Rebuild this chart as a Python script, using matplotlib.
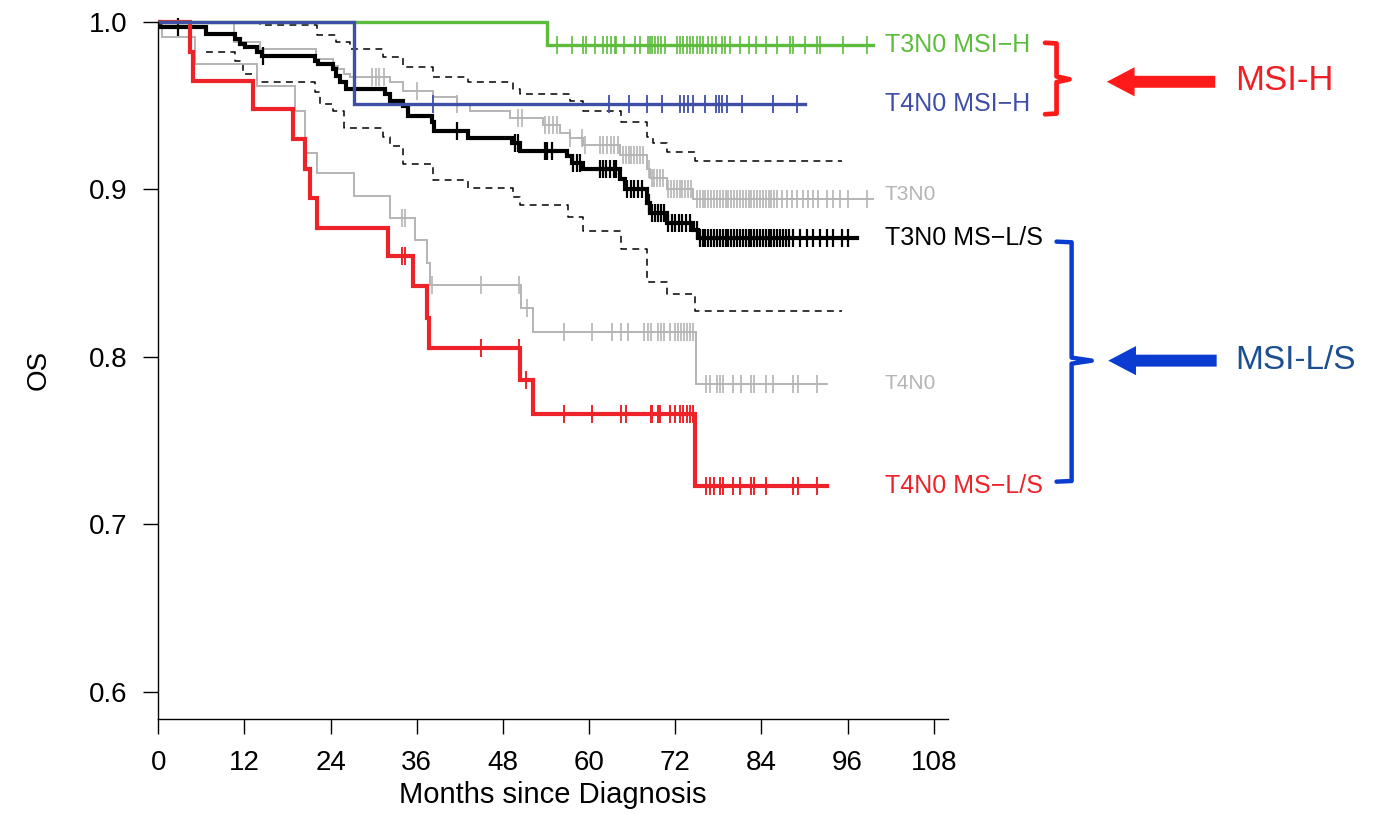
import numpy as np
import matplotlib
matplotlib.use('Agg')
import matplotlib.pyplot as plt

plt.rcParams['font.family'] = ['Liberation Sans', 'DejaVu Sans']

# ---- Kaplan-Meier step data (months, OS after each event) ----
green_t = [54.2]
green_s = [0.986]
green_end = 99.5
green_cens = [55.5, 57.6, 59.1, 59.5, 60.8, 62.0, 62.5, 63.1, 63.6, 63.8, 64.9, 66.4, 67.1,
              68.2, 68.5, 68.8, 69.2, 69.6, 70.0, 70.6, 72.2, 72.7, 73.1, 73.6, 74.0, 74.4,
              75.0, 75.4, 75.9, 76.5, 77.1, 77.7, 78.5, 78.9, 79.6, 81.0, 82.2, 83.3, 84.6,
              86.1, 88.0, 88.4, 90.1, 91.7, 92.2, 95.3, 98.7]

blue_t = [27.2]
blue_s = [0.951]
blue_end = 90.1
blue_cens = [38.2, 62.8, 65.6, 68.1, 70.2, 72.6, 73.2, 73.8, 74.5, 76.1, 77.7, 78.1, 78.5,
             79.2, 81.3, 85.6, 89.0]

black_t = [0.3, 6.7, 10.7, 11.4, 12.1, 13.7, 14.4, 21.8, 22.3, 24.3, 24.8, 25.3, 26.2, 31.6,
           32.3, 34.1, 34.8, 38.1, 38.4, 43.2, 49.2, 50.4, 56.9, 57.6, 59.2, 64.3, 65.0, 68.0,
           68.5, 70.8, 74.5, 75.2]
black_s = [0.997, 0.993, 0.990, 0.987, 0.985, 0.982, 0.980, 0.977, 0.975, 0.972, 0.968, 0.964,
           0.960, 0.957, 0.953, 0.950, 0.944, 0.940, 0.935, 0.931, 0.928, 0.923, 0.920, 0.916,
           0.912, 0.906, 0.900, 0.892, 0.886, 0.880, 0.876, 0.871]
black_end = 97.3
black_cens = [2.8, 14.6, 41.6, 49.7, 50.1, 53.8, 54.2, 54.8, 57.8, 58.3, 58.8, 61.5, 62.0,
              62.4, 62.9, 63.4, 63.8, 65.3, 65.8, 66.3, 66.8, 67.3, 68.3, 68.8, 69.2, 69.6,
              70.0, 70.4, 71.0, 71.5, 72.0, 72.5, 73.0, 73.5, 74.0, 75.0, 75.4, 75.8, 76.2,
              76.6, 77.0, 77.4, 77.8, 78.2, 78.6, 79.0, 79.4, 79.8, 80.2, 80.6, 81.0, 81.4,
              81.8, 82.2, 82.6, 83.0, 83.4, 83.8, 84.2, 84.6, 85.0, 85.4, 85.8, 86.2, 86.6,
              87.0, 87.4, 87.8, 88.4, 89.4, 90.3, 91.2, 92.1, 93.1, 94.0, 95.2, 96.1]

black_up_t = [14.2, 22.1, 24.8, 26.7, 31.3, 34.1, 38.3, 43.2, 49.4, 50.4, 57.3, 59.2, 64.5,
              68.0, 68.9, 70.8, 74.7]
black_up_s = [0.998, 0.992, 0.988, 0.984, 0.979, 0.973, 0.967, 0.964, 0.960, 0.957, 0.953,
              0.947, 0.940, 0.9315, 0.9275, 0.9225, 0.917]
black_lo_t = [6.7, 10.7, 11.8, 13.7, 21.8, 22.5, 24.4, 25.8, 31.3, 32.3, 34.1, 38.3, 43.2,
              49.4, 50.4, 57.1, 59.2, 64.5, 68.0, 70.8, 74.7]
black_lo_s = [0.982, 0.977, 0.969, 0.964, 0.958, 0.951, 0.947, 0.9365, 0.9315, 0.926, 0.915,
              0.9056, 0.9006, 0.8953, 0.8907, 0.8837, 0.8753, 0.8642, 0.8449, 0.8375, 0.8275]
black_lo_start = 0.988
ci_end = 95.2

red_t = [4.4, 4.9, 13.2, 18.8, 20.4, 21.1, 22.1, 32.0, 35.5, 37.4, 37.7, 50.4, 52.2, 74.7]
red_s = [0.982, 0.965, 0.948, 0.930, 0.912, 0.895, 0.877, 0.860, 0.842, 0.823, 0.805, 0.786,
         0.766, 0.723]
red_end = 93.1
red_cens = [33.9, 34.4, 45.0, 50.2, 51.2, 56.5, 60.4, 64.4, 65.2, 68.6, 68.8, 69.6, 69.9,
            71.3, 72.0, 72.7, 73.1, 73.6, 74.1, 74.4, 76.3, 76.8, 77.4, 78.2, 78.6, 80.1,
            81.0, 82.6, 83.0, 84.6, 88.4, 89.1, 91.7]

t3_t = [10.5, 14.2, 22.0, 24.4, 25.0, 25.8, 26.7, 32.3, 34.1, 38.3, 41.6, 43.4, 49.0, 53.6,
        56.0, 57.3, 59.2, 64.3, 68.0, 68.5, 70.8, 74.5]
t3_s = [0.988, 0.984, 0.978, 0.974, 0.972, 0.969, 0.967, 0.964, 0.959, 0.955, 0.951, 0.947,
        0.9425, 0.9385, 0.9335, 0.9305, 0.9265, 0.9205, 0.912, 0.907, 0.900, 0.894]
t3_end = 99.6
t3_cens = [29.8, 30.3, 30.8, 31.4, 36.0, 41.6, 50.1, 50.6, 53.9, 54.4, 55.0, 55.5, 57.3, 59.0,
           59.4, 61.5, 62.0, 62.5, 63.0, 63.5, 64.0, 64.7, 65.1, 65.5, 65.9, 66.3, 66.7, 67.1,
           67.5, 68.3, 68.7, 69.1, 69.5, 69.9, 70.3, 71.0, 71.4, 71.8, 72.2, 72.6, 73.0, 73.4,
           73.8, 74.2, 75.0, 75.4, 75.8, 76.2, 76.6, 77.0, 77.4, 77.8, 78.2, 78.6, 79.0, 79.4,
           79.8, 80.2, 80.6, 81.0, 81.4, 81.8, 82.2, 82.6, 83.0, 83.4, 83.8, 84.2, 84.6, 85.0,
           85.4, 85.8, 86.1, 86.8, 87.5, 88.2, 88.9, 89.8, 90.5, 91.2, 91.9, 93.1, 94.0, 94.9,
           96.1, 98.7]

t4_t = [0.5, 5.1, 13.7, 19.0, 20.4, 22.1, 27.2, 32.2, 35.7, 37.4, 37.8, 50.5, 52.2, 74.9]
t4_s = [0.991, 0.975, 0.962, 0.947, 0.922, 0.910, 0.896, 0.883, 0.870, 0.856, 0.843, 0.829,
        0.815, 0.784]
t4_end = 93.1
t4_cens = [33.9, 34.4, 38.1, 45.0, 50.2, 51.4, 56.5, 60.4, 63.2, 64.4, 65.4, 67.7, 68.2, 68.6,
           69.6, 70.0, 70.4, 71.3, 72.0, 72.4, 72.8, 73.2, 73.6, 74.0, 74.4, 76.3, 76.8, 77.8,
           78.2, 78.6, 80.1, 81.1, 82.6, 83.0, 84.6, 85.6, 88.4, 89.1, 91.7]

labels = ['T3N0 MSI\u2212H', 'T4N0 MSI\u2212H', 'T3N0', 'T3N0 MS\u2212L/S', 'T4N0',
          'T4N0 MS\u2212L/S']

GREEN = '#5cbc3c'
BLUE = '#3f4ea6'
RED = '#ee2229'
GREY = '#b4b4b4'


def steps(t, s, end, start=1.0):
    x = np.r_[0.0, t, end]
    y = np.r_[start, s, s[-1]]
    return x, y


def level(t, s, x, start=1.0):
    idx = np.searchsorted(t, x, side='right')
    return np.r_[start, s][idx]


def km(ax, t, s, end, cens, color, lw, mew, start=1.0):
    x, y = steps(t, s, end, start)
    ax.step(x, y, where='post', color=color, lw=lw, solid_joinstyle='miter')
    ax.plot(cens, level(t, s, cens, start), ls='none', marker='|', ms=13,
            mew=mew, color=color)


fig = plt.figure(figsize=(13.83, 8.14), dpi=100)
ax = fig.add_axes([0.11446, 0.1167, 0.5711, 0.8624])
ax.set_xlim(0, 110)
ax.set_ylim(0.5836, 1.003)

# confidence band for T3N0 MS-L/S
dash = (0, (4.5, 3.5))
x, y = steps(black_up_t, black_up_s, ci_end)
ax.step(x, y, where='post', color='black', lw=1.1, ls=dash)
x, y = steps(black_lo_t, black_lo_s, ci_end, black_lo_start)
ax.step(x[1:], y[1:], where='post', color='black', lw=1.1, ls=dash)

km(ax, t3_t, t3_s, t3_end, t3_cens, GREY, 1.4, 1.2)
km(ax, t4_t, t4_s, t4_end, t4_cens, GREY, 1.4, 1.2)
km(ax, black_t, black_s, black_end, black_cens, 'black', 3.0, 1.6)
km(ax, red_t, red_s, red_end, red_cens, RED, 3.0, 1.4)
km(ax, green_t, green_s, green_end, green_cens, GREEN, 2.4, 1.2)
km(ax, blue_t, blue_s, blue_end, blue_cens, BLUE, 2.4, 1.3)

# right-hand curve labels
lab_y = [green_s[-1], blue_s[-1], t3_s[-1] + 0.003, black_s[-1], t4_s[-1], red_s[-1]]
lab_c = [GREEN, BLUE, GREY, 'black', GREY, RED]
lab_fs = [18, 18, 15, 18, 15, 18]
for txt, yy, cc, fs in zip(labels, lab_y, lab_c, lab_fs):
    ax.text(101.2, yy, txt, color=cc, fontsize=fs, va='center', ha='left', clip_on=False)

# brackets and arrows
bk_red = dict(x=[123.5, 125.1, 125.1, 126.9, 125.1, 125.1, 123.5],
              y=[0.9876, 0.9872, 0.9675, 0.9658, 0.9641, 0.9453, 0.9449])
bk_blue = dict(x=[125.1, 127.2, 127.2, 130.0, 127.2, 127.2, 125.1],
               y=[0.8688, 0.8684, 0.7995, 0.7977, 0.7959, 0.7258, 0.7254])
ax.plot(bk_red['x'], bk_red['y'], color='#ff1a1a', lw=3.4, clip_on=False,
        solid_capstyle='round', solid_joinstyle='round')
ax.plot(bk_blue['x'], bk_blue['y'], color='#0a3cd2', lw=3.2, clip_on=False,
        solid_capstyle='round', solid_joinstyle='round')

arrow = 'simple,head_length=1.0,head_width=1.05,tail_width=0.43'
ax.annotate('', xy=(132.1, 0.9643), xytext=(147.2, 0.9643), annotation_clip=False,
            arrowprops=dict(arrowstyle=arrow, mutation_scale=20, color='#ff1a1a',
                            shrinkA=0, shrinkB=0, lw=0))
ax.annotate('', xy=(132.3, 0.7977), xytext=(147.4, 0.7977), annotation_clip=False,
            arrowprops=dict(arrowstyle=arrow, mutation_scale=20, color='#0a3cd2',
                            shrinkA=0, shrinkB=0, lw=0))
ax.text(150.0, 0.9648, 'MSI-H', color='#f01f26', fontsize=25, va='center', ha='left',
        clip_on=False)
ax.text(150.0, 0.7975, 'MSI-L/S', color='#1c4f8f', fontsize=24, va='center', ha='left',
        clip_on=False)

# axes styling (R-like)
ax.spines['top'].set_visible(False)
ax.spines['right'].set_visible(False)
ax.spines['left'].set_bounds(0.5836, 1.0)
for sp in ('left', 'bottom'):
    ax.spines[sp].set_linewidth(1.0)
ax.set_xticks([0, 12, 24, 36, 48, 60, 72, 84, 96, 108])
ax.set_yticks([0.6, 0.7, 0.8, 0.9, 1.0])
ax.set_yticklabels(['0.6', '0.7', '0.8', '0.9', '1.0'])
ax.tick_params(axis='both', labelsize=20, length=11, width=1.0, pad=11)
ax.set_xlabel('Months since Diagnosis', fontsize=21)
ax.set_ylabel('OS', fontsize=20)
ax.xaxis.set_label_coords(0.5, -0.088)
ax.yaxis.set_label_coords(-0.135, 0.497)

fig.savefig('out.png', dpi=100)
